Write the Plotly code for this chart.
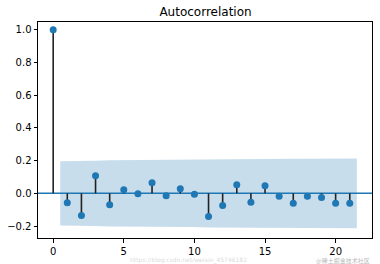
import plotly.graph_objects as go

lags = list(range(22))
acf = [1.0, -0.057, -0.135, 0.107, -0.069, 0.022, -0.002, 0.065, -0.014, 0.028,
       -0.006, -0.141, -0.075, 0.053, -0.055, 0.046, -0.018, -0.061, -0.018, -0.026,
       -0.061, -0.061]
# confidence band half-width per lag (lags 1..21)
conf = [0.196, 0.197, 0.200, 0.203, 0.204, 0.204, 0.205, 0.205, 0.205, 0.205,
        0.209, 0.210, 0.210, 0.211, 0.211, 0.211, 0.212, 0.212, 0.212, 0.213, 0.213]
x_ticks = [0, 5, 10, 15, 20]
y_ticks = [-0.2, 0.0, 0.2, 0.4, 0.6, 0.8, 1.0]

band_x = [l for l in lags[1:]]
band_x[0] -= 0.5
band_x[-1] += 0.5

blue = "#1f77b4"
fig = go.Figure()
fig.add_trace(go.Scatter(x=band_x + band_x[::-1], y=conf + [-c for c in conf[::-1]],
                         fill="toself", fillcolor="rgba(31,119,180,0.25)",
                         line=dict(width=0), mode="lines", hoverinfo="skip"))
fig.add_trace(go.Scatter(x=[-2, 24], y=[0, 0], mode="lines",
                         line=dict(color=blue, width=1.5)))
sx, sy = [], []
for l, v in zip(lags, acf):
    sx += [l, l, None]
    sy += [0, v, None]
fig.add_trace(go.Scatter(x=sx, y=sy, mode="lines", line=dict(color="#222", width=1.6)))
fig.add_trace(go.Scatter(x=lags, y=acf, mode="markers",
                         marker=dict(color=blue, size=7)))

axis = dict(showline=True, mirror=True, linecolor="black", linewidth=1,
            ticks="outside", ticklen=3.5, tickcolor="black", showgrid=False,
            zeroline=False, tickfont=dict(family="DejaVu Sans", size=10, color="black"))
fig.update_xaxes(range=[-1.075, 22.575], tickvals=x_ticks, **axis)
fig.update_yaxes(range=[-0.273, 1.048], tickvals=y_ticks,
                 ticktext=[f"{v:.1f}".replace("-", "\u2212") for v in y_ticks], **axis)
fig.update_layout(width=380, height=264, margin=dict(l=38, r=7, t=22, b=24),
                  plot_bgcolor="white", paper_bgcolor="white", showlegend=False,
                  title=dict(text="Autocorrelation", x=(38 + 373) / 2 / 380, xanchor="center",
                             y=1 - 12 / 264, yanchor="middle",
                             font=dict(family="DejaVu Sans", size=12, color="black")))
fig.add_annotation(text="https://blog.csdn.net/weixin_45746182", xref="paper", yref="paper",
                   x=0.45, y=-0.103, yanchor="middle", showarrow=False,
                   font=dict(family="DejaVu Sans", size=6, color="rgba(190,190,190,0.6)"))
fig.add_annotation(text="@稀土掘金技术社区", xref="paper", yref="paper",
                   x=1.0, y=-0.103, xanchor="right", yanchor="middle", showarrow=False,
                   font=dict(family="Noto Sans CJK SC", size=6, color="rgba(150,150,150,0.7)"))
fig.write_html("out.html")
